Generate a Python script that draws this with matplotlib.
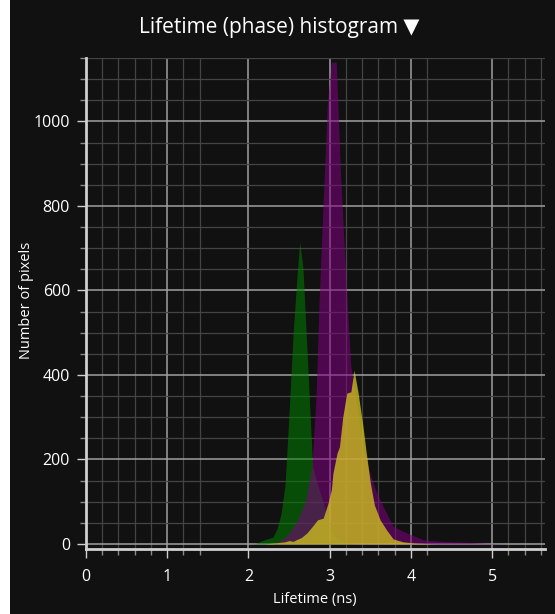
import matplotlib
matplotlib.use("Agg")
import matplotlib.pyplot as plt
import matplotlib.patches as patches

# lifetime (ns) / counts
green_x = [2.05, 2.10, 2.15, 2.20, 2.25, 2.30, 2.35, 2.40, 2.45, 2.50, 2.55, 2.60, 2.63,
           2.67, 2.71, 2.75, 2.79, 2.85, 2.91, 2.96, 3.00, 3.05, 3.10, 3.20, 3.30, 3.40]
green_y = [0, 2, 6, 10, 13, 16, 35, 70, 140, 310, 500, 640, 715,
           655, 498, 340, 182, 140, 104, 70, 40, 20, 10, 4, 1, 0]

purple_x = [2.30, 2.40, 2.50, 2.60, 2.70, 2.78, 2.83, 2.87, 2.92, 2.97, 3.02, 3.08, 3.13,
            3.20, 3.26, 3.33, 3.38, 3.47, 3.55, 3.62, 3.68, 3.78, 3.88, 3.95, 4.05, 4.15,
            4.30, 4.50, 4.80, 5.00, 5.20]
purple_y = [0, 8, 25, 55, 100, 180, 340, 577, 813, 1040, 1140, 1140, 890,
            620, 420, 340, 262, 182, 135, 104, 80, 42, 32, 26, 18, 10,
            7, 5, 3, 1, 0]

yellow_x = [2.20, 2.30, 2.40, 2.45, 2.50, 2.55, 2.59, 2.65, 2.72, 2.78, 2.85, 2.92, 2.98,
            3.02, 3.04, 3.09, 3.12, 3.16, 3.21, 3.26, 3.30, 3.35, 3.41, 3.45, 3.50, 3.55,
            3.62, 3.70, 3.78, 3.90, 4.05, 4.30]
yellow_y = [0, 2, 4, 5, 8, 6, 10, 15, 26, 40, 57, 61, 97,
            128, 168, 215, 230, 300, 357, 360, 411, 357, 277, 215, 144, 92,
            57, 33, 12, 5, 2, 0]

x_major = [0, 1, 2, 3, 4, 5]
x_minor = [0.2, 0.4, 0.6, 0.8, 1.2, 1.4, 3.2, 3.4, 3.6, 3.8, 4.2, 5.2, 5.4, 5.6]
y_major = [0, 200, 400, 600, 800, 1000]
y_minor = [50, 100, 150, 250, 300, 350, 450, 500, 550, 650, 700, 750, 850, 900, 950, 1050, 1100, 1150]

bg = "#111111"
light = "#cfcfcf"

plt.rcParams["font.family"] = ["Open Sans", "DejaVu Sans"]

fig = plt.figure(figsize=(5.55, 6.14), dpi=100, facecolor=bg)
# thin white strip on the left edge of the screenshot
fig.patches.append(patches.Rectangle((0, 0), 10 / 555, 1, transform=fig.transFigure,
                                     facecolor="white", edgecolor="none", zorder=-1))

ax = fig.add_axes([86 / 555, 65 / 614, 459 / 555, 491 / 614])
ax.set_facecolor(bg)

ax.fill_between(green_x, green_y, 0, color=(0.0, 0.5, 0.0), alpha=0.55, lw=0, zorder=3)
ax.fill_between(purple_x, purple_y, 0, color=(0.5, 0.0, 0.5), alpha=0.55, lw=0, zorder=4)
ax.fill_between(yellow_x, yellow_y, 0, color=(0.83, 0.78, 0.11), alpha=0.75, lw=0, zorder=5)

ax.set_xlim(0, 5.65)
ax.set_ylim(-12, 1150)

ax.set_xticks(x_major)
ax.set_xticks(x_minor, minor=True)
ax.set_yticks(y_major)
ax.set_yticks(y_minor, minor=True)

ax.grid(which="major", color="#a0a0a0", lw=1.1, zorder=1)
ax.grid(which="minor", color="#444444", lw=0.9, zorder=1)
ax.set_axisbelow(True)

for side in ["top", "right"]:
    ax.spines[side].set_visible(False)
for side in ["left", "bottom"]:
    ax.spines[side].set_color(light)
    ax.spines[side].set_linewidth(2)

ax.tick_params(which="major", colors=light, length=6.5, width=1, labelsize=11.5)
ax.tick_params(axis="x", which="major", pad=8)
ax.tick_params(axis="y", which="major", pad=5)
ax.tick_params(which="minor", colors="#8a8a8a", length=4, width=1)
ax.tick_params(axis="x", labelcolor="white")
ax.tick_params(axis="y", labelcolor="white")

ax.set_xlabel("Lifetime (ns)", color="white", fontsize=10.5)
ax.set_ylabel("Number of pixels", color="white", fontsize=10.5)
ax.xaxis.set_label_coords((315 - 86) / 459, -(599 - 549) / 491)
ax.yaxis.set_label_coords((27 - 86) / 459, (549 - 300) / 491)
ax.xaxis.label.set_va("center")
ax.yaxis.label.set_va("center")

fig.text(279 / 555, 1 - 27 / 614, "Lifetime (phase) histogram \u25bc", color="white",
         fontsize=15, ha="center", va="center", family=["Open Sans", "DejaVu Sans"])

fig.savefig("out.png", dpi=100, facecolor=bg)
